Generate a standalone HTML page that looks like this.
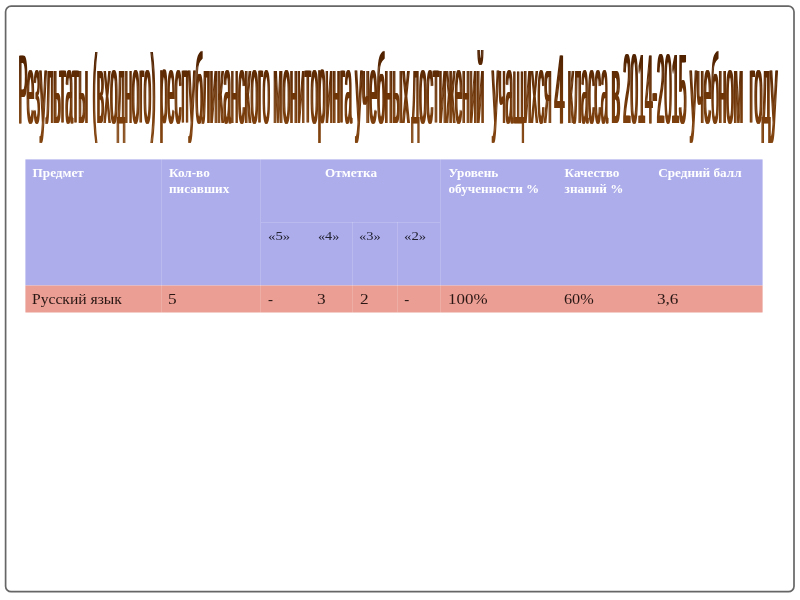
<!DOCTYPE html>
<html lang="ru">
<head>
<meta charset="utf-8">
<title>Результаты мониторинга</title>
<style>
html,body{margin:0;padding:0;background:#fff;}
body{width:800px;height:600px;position:relative;overflow:hidden;font-family:"Liberation Serif",serif;}
.title{position:absolute;left:0;top:0;width:800px;height:600px;}
.grid{position:absolute;left:25px;top:159px;width:738px;height:153px;border-collapse:collapse;border-spacing:0;table-layout:fixed;}
.grid th,.grid td{position:relative;padding:0;margin:0;border:0;text-align:left;vertical-align:top;font-weight:normal;overflow:visible;}
.t{position:absolute;white-space:pre;transform-origin:0 0;}
.hd{color:#fff;font-weight:bold;font-size:13.2px;line-height:16.5px;}
.sub{color:#222233;font-size:13.2px;line-height:16.5px;}
.dt{color:#2a1714;font-size:15px;line-height:17px;}
</style>
</head>
<body>

<svg class="title" width="800" height="600" viewBox="0 0 800 600">
<defs>
<linearGradient id="tg" gradientUnits="userSpaceOnUse" x1="0" y1="52" x2="0" y2="144">
<stop offset="0" stop-color="#4e2000"/>
<stop offset="0.4" stop-color="#6a3206"/>
<stop offset="0.78" stop-color="#7d400d"/>
<stop offset="1" stop-color="#834510"/>
</linearGradient>
</defs>
<rect x="0" y="0" width="800" height="600" fill="#fff"/>
<g transform="translate(0,122.9) scale(0.125,0.975)">
<text x="0" y="0" font-family="Liberation Sans, sans-serif" font-weight="normal" font-size="100" fill="#000" style="text-shadow:3.8px 0 0 #000,-3.8px 0 0 #000"><tspan x="148.8" textLength="555.2" lengthAdjust="spacingAndGlyphs">Результаты</tspan> <tspan x="740.8" textLength="502.4" lengthAdjust="spacingAndGlyphs">(входного)</tspan> <tspan x="1280.0" textLength="880.0" lengthAdjust="spacingAndGlyphs">республиканского</tspan> <tspan x="2188.8" textLength="627.2" lengthAdjust="spacingAndGlyphs">мониторинга</tspan> <tspan x="2841.6" textLength="433.6" lengthAdjust="spacingAndGlyphs">учебных</tspan> <tspan x="3292.8" textLength="579.2" lengthAdjust="spacingAndGlyphs">достижений</tspan> <tspan x="3936.0" textLength="475.2" lengthAdjust="spacingAndGlyphs">учащихся</tspan> <tspan x="4436.8" textLength="78.4" lengthAdjust="spacingAndGlyphs">4</tspan> <tspan x="4544.0" textLength="320.0" lengthAdjust="spacingAndGlyphs">класса</tspan> <tspan x="4892.8" textLength="67.2" lengthAdjust="spacingAndGlyphs">в</tspan> <tspan x="4985.6" textLength="505.6" lengthAdjust="spacingAndGlyphs">2014-2015</tspan> <tspan x="5520.8" textLength="422.4" lengthAdjust="spacingAndGlyphs">учебном</tspan> <tspan x="5996.8" textLength="222.4" lengthAdjust="spacingAndGlyphs">году</tspan></text>
</g>
<rect x="10" y="40" width="780" height="112" fill="url(#tg)" style="mix-blend-mode:screen"/>
<rect x="5.6" y="6.2" width="788.4" height="585.45" rx="5.5" ry="5.5" fill="none" stroke="#666" stroke-width="1.7"/>
<!-- table background -->
<rect x="25.4" y="159.4" width="737.2" height="126.1" fill="#adadeb"/>
<rect x="25.4" y="285.5" width="737.2" height="27" fill="#ea9e94"/>
<g fill="#fff" fill-opacity="0.17">
<rect x="161" y="159.4" width="1" height="153.1"/>
<rect x="260" y="159.4" width="1" height="153.1"/>
<rect x="352" y="222" width="1" height="90.5"/>
<rect x="397" y="222" width="1" height="90.5"/>
<rect x="440" y="159.4" width="1" height="153.1"/>
<rect x="261" y="222" width="179" height="1"/>
</g>
</svg>

<!-- table -->
<table class="grid">
<colgroup><col style="width:136px"><col style="width:99px"><col style="width:50px"><col style="width:42px"><col style="width:45px"><col style="width:43px"><col style="width:117px"><col style="width:93px"><col style="width:113px"></colgroup>
<thead>
<tr style="height:63px">
<th rowspan="2"><div class="t hd" style="left:7.6px;top:5.75px;">Предмет</div></th>
<th rowspan="2"><div class="t hd" style="left:8px;top:5.75px;">Кол-во
писавших</div></th>
<th colspan="4"><div class="t hd" style="left:65px;top:5.75px;">Отметка</div></th>
<th rowspan="2"><div class="t hd" style="left:8.5px;top:5.75px;">Уровень
обученности %</div></th>
<th rowspan="2"><div class="t hd" style="left:7.6px;top:5.75px;">Качество
знаний %</div></th>
<th rowspan="2"><div class="t hd" style="left:8.2px;top:5.75px;">Средний балл</div></th>
</tr>
<tr style="height:63px">
<th><div class="t sub" style="left:8.3px;top:6.25px;transform:scaleX(1.12);">«5»</div></th>
<th><div class="t sub" style="left:7.6px;top:6.25px;transform:scaleX(1.08);">«4»</div></th>
<th><div class="t sub" style="left:7.4px;top:6.25px;transform:scaleX(1.1);">«3»</div></th>
<th><div class="t sub" style="left:6.5px;top:6.25px;transform:scaleX(1.12);">«2»</div></th>
</tr>
</thead>
<tbody>
<tr style="height:27px">
<td><div class="t dt" style="left:7.4px;top:6px;transform:scaleX(1.04);">Русский язык</div></td>
<td><div class="t dt" style="left:7px;top:6px;transform:scaleX(1.15);">5</div></td>
<td><div class="t dt" style="left:8px;top:6px;">-</div></td>
<td><div class="t dt" style="left:7px;top:6px;transform:scaleX(1.15);">3</div></td>
<td><div class="t dt" style="left:8.4px;top:6px;transform:scaleX(1.15);">2</div></td>
<td><div class="t dt" style="left:7.2px;top:6px;">-</div></td>
<td><div class="t dt" style="left:7.8px;top:6px;transform:scaleX(1.13);">100%</div></td>
<td><div class="t dt" style="left:7.3px;top:6px;transform:scaleX(1.08);">60%</div></td>
<td><div class="t dt" style="left:7px;top:6px;transform:scaleX(1.14);">3,6</div></td>
</tr>
</tbody>
</table>

</body>
</html>
